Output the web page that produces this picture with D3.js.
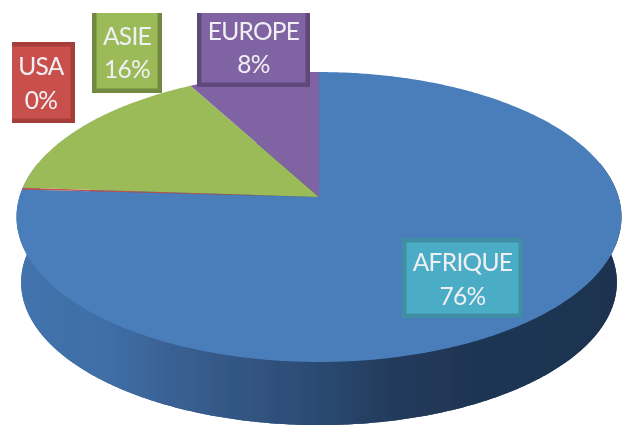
<!DOCTYPE html>
<html>
<head>
<meta charset="utf-8">
<script src="https://cdn.jsdelivr.net/npm/d3@7"></script>
<style>
  html, body { margin: 0; padding: 0; background: #fff; }
  svg { display: block; }
</style>
</head>
<body>
<svg id="chart" width="623" height="427"></svg>
<script>
var categories = ['AFRIQUE', 'USA', 'ASIE', 'EUROPE'];
var values = [76, 0.2, 16, 8];
var sliceColors = ['#4a7ebb', '#c0504d', '#9bbb59', '#8064a2'];
var labelFills = ['#4bacc6', '#c9504d', '#9bbb59', '#8064a2'];
var labelBorders = ['#3f8ea4', '#a53e3b', '#71893f', '#5f497a'];

// label boxes as [x, y, w, h], same order as categories
var labelBoxes = [[402, 238, 121, 80], [7, 42, 68, 81], [92, 5, 70, 88], [197, 5, 113, 82]];

var width = 623;
var height = 427;
var centerX = 319;
var centerY = 197;
var depth = 66;
var tilt = -0.138; // perspective, far edge looks smaller than the near one
var scaleX = 299.6;
var scaleY = 142.2;

var svg = d3.select('#chart');

var defs = svg.append('defs');

var wallGradient = defs.append('linearGradient')
    .attr('id', 'wall')
    .attr('gradientUnits', 'userSpaceOnUse')
    .attr('x1', 17).attr('x2', 622)
    .attr('y1', 0).attr('y2', 0);

[[0, '#4374ad'], [0.16, '#3f6da5'], [0.3, '#365c8c'], [0.5, '#2b4a72'], [0.62, '#223b5c'], [0.75, '#1f3553'], [1, '#1f3350']]
    .forEach(function (s) {
        wallGradient.append('stop').attr('offset', s[0]).attr('stop-color', s[1]);
    });

defs.append('clipPath').attr('id', 'frame')
    .append('rect')
    .attr('x', 12).attr('y', 13)
    .attr('width', width - 12).attr('height', height - 13);

// the reference is a soft scan, nothing in it has a crisp edge
defs.append('filter').attr('id', 'soft')
    .append('feGaussianBlur').attr('stdDeviation', 0.5);

function project(angle, shrink, dy) {
    var u = Math.sin(angle) * shrink;
    var v = -Math.cos(angle) * shrink;
    var w = 1 + tilt * v;
    return [centerX + scaleX * u / w, centerY + dy + scaleY * v / w];
}

function arcPoints(a0, a1, shrink, dy) {
    var n = Math.max(2, Math.ceil(Math.abs(a1 - a0) / 0.01));
    return d3.range(n + 1).map(function (i) {
        return project(a0 + (a1 - a0) * i / n, shrink, dy);
    });
}

var line = d3.line();
var pie = d3.pie().sort(null).value(function (d) { return d; });
var arcs = pie(values);

var chart = svg.append('g').attr('filter', 'url(#soft)');

// side wall: bottom ellipse plus the band up to the top ellipse
var shrinkBottom = 0.985;
chart.append('path')
    .attr('d', line(arcPoints(0, 2 * Math.PI, shrinkBottom, depth)) + 'Z')
    .attr('fill', 'url(#wall)');

chart.append('path')
    .attr('d', line(arcPoints(Math.PI * 0.42, Math.PI * 1.58, 1, 0)
        .concat(arcPoints(Math.PI * 1.58, Math.PI * 0.42, shrinkBottom, depth))) + 'Z')
    .attr('fill', 'url(#wall)');

// top face
chart.append('g')
    .selectAll('path')
    .data(arcs)
    .enter().append('path')
    .attr('d', function (d) {
        return line([[centerX, centerY]].concat(arcPoints(d.startAngle, d.endAngle, 1, 0))) + 'Z';
    })
    .attr('fill', function (d, i) { return sliceColors[i]; });

// data labels
var label = svg.append('g')
    .attr('clip-path', 'url(#frame)')
    .append('g')
    .attr('filter', 'url(#soft)')
    .selectAll('g')
    .data(categories)
    .enter().append('g');

label.append('rect')
    .attr('x', function (d, i) { return labelBoxes[i][0] + 2.25; })
    .attr('y', function (d, i) { return labelBoxes[i][1] + 2.25; })
    .attr('width', function (d, i) { return labelBoxes[i][2] - 4.5; })
    .attr('height', function (d, i) { return labelBoxes[i][3] - 4.5; })
    .attr('fill', function (d, i) { return labelFills[i]; })
    .attr('stroke', function (d, i) { return labelBorders[i]; })
    .attr('stroke-width', 4.5);

label.append('text')
    .attr('x', function (d, i) { return labelBoxes[i][0] + labelBoxes[i][2] / 2; })
    .attr('y', function (d, i) { return labelBoxes[i][1] + labelBoxes[i][3] - [47, 48, 48, 47][i]; })
    .text(function (d) { return d; });

label.append('text')
    .attr('x', function (d, i) { return labelBoxes[i][0] + labelBoxes[i][2] / 2; })
    .attr('y', function (d, i) { return labelBoxes[i][1] + labelBoxes[i][3] - [13, 14, 15, 14][i]; })
    .text(function (d, i) { return Math.round(values[i]) + '%'; });

label.selectAll('text')
    .attr('text-anchor', 'middle')
    .attr('font-family', 'Lato, "Open Sans", sans-serif')
    .attr('font-size', 24.5)
    .attr('letter-spacing', -0.7)
    .attr('fill', '#f0f0f4');
</script>
</body>
</html>
